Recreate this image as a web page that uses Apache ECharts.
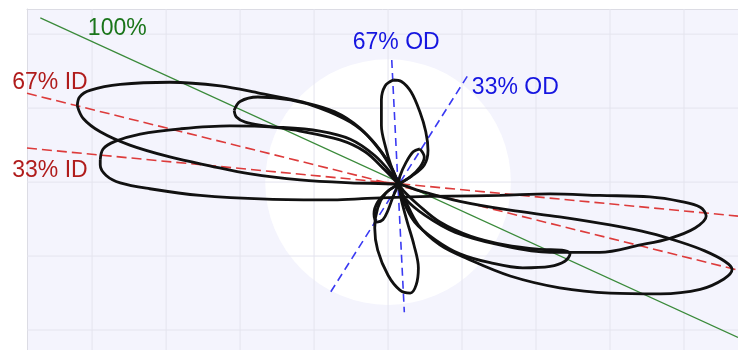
<!DOCTYPE html>
<html>
<head>
<meta charset="utf-8">
<script src="https://cdn.jsdelivr.net/npm/echarts@6/dist/echarts.min.js"></script>
<style>
  html, body { margin: 0; padding: 0; background: #ffffff; }
  #chart { width: 738px; height: 350px; }
</style>
</head>
<body>
<div id="chart"></div>
<script>
// Visible window of the plane (grid units)
const xRange = [-4.88, 4.73];
const yRange = [-2.27, 2.34];
const gridX = [-4, -3, -2, -1, 0, 1, 2, 3, 4];
const gridY = [-2, -1, 0, 1, 2];

// Clear disc behind the traces: centre and radius
const discCenter = [0, 0];
const discRadius = 1.66;

// Reference directions through the crossing point
const line100 = [[-4.70, 2.22], [4.73, -2.10]];
const line67ID = [[-4.88, 1.20], [4.73, -1.19]];
const line33ID = [[-4.88, 0.46], [4.73, -0.46]];
const line67OD = [[0.05, 1.65], [0.22, -1.76]];
const line33OD = [[1.07, 1.43], [-0.81, -1.54]];

// Direction labels
const labelText = ['100%', '67% ID', '33% ID', '67% OD', '33% OD'];
const labelX = [-3.66, -4.57, -4.57, 0.11, 1.72];
const labelY = [2.08, 1.35, 0.16, 1.88, 1.27];

// Figure-eight traces, one per direction
const loop67ID = [
  [-4.20, 1.03], [-4.17, 1.15], [-4.03, 1.24], [-3.62, 1.32], [-2.95, 1.35], [-2.27, 1.30],
  [-1.73, 1.20], [-1.19, 1.09], [-0.72, 0.95], [-0.38, 0.73], [-0.11, 0.43], [0.07, 0.14],
  [0.14, -0.03], [0.23, -0.24], [0.41, -0.58], [0.70, -0.85], [1.08, -1.04], [1.65, -1.27],
  [2.32, -1.43], [3.00, -1.50], [3.68, -1.51], [4.22, -1.45], [4.54, -1.31], [4.65, -1.18],
  [4.55, -1.07], [4.28, -0.93], [3.95, -0.81], [3.54, -0.69], [3.00, -0.58], [2.32, -0.47],
  [1.65, -0.38], [0.97, -0.26], [0.43, -0.12], [0.14, -0.03], [-0.51, -0.01], [-1.19, 0.03],
  [-1.86, 0.11], [-2.41, 0.22], [-2.95, 0.34], [-3.49, 0.50], [-3.89, 0.68], [-4.12, 0.86],
  [-4.20, 1.03]
];
const loop33ID = [
  [-3.89, 0.30], [-3.85, 0.45], [-3.69, 0.55], [-3.35, 0.65], [-2.81, 0.72], [-2.14, 0.76],
  [-1.46, 0.74], [-0.92, 0.69], [-0.51, 0.58], [-0.18, 0.36], [0.05, 0.11], [0.14, -0.03],
  [0.23, -0.22], [0.50, -0.45], [0.91, -0.68], [1.51, -0.85], [2.19, -0.95], [2.86, -0.95],
  [3.41, -0.85], [3.81, -0.76], [4.15, -0.62], [4.30, -0.46], [4.22, -0.34], [3.95, -0.26],
  [3.54, -0.20], [2.86, -0.18], [2.19, -0.16], [1.51, -0.18], [0.84, -0.19], [0.30, -0.20],
  [-0.28, -0.22], [-0.74, -0.24], [-1.64, -0.23], [-2.54, -0.18], [-3.22, -0.09], [-3.62, -0.01],
  [-3.81, 0.09], [-3.89, 0.23], [-3.89, 0.30]
];
const loop100 = [
  [-2.08, 0.97], [-2.00, 1.09], [-1.76, 1.15], [-1.32, 1.11], [-0.92, 1.00], [-0.51, 0.81],
  [-0.22, 0.57], [0.03, 0.23], [0.14, -0.03], [0.20, -0.24], [0.36, -0.54], [0.64, -0.78],
  [0.97, -0.97], [1.38, -1.09], [1.82, -1.16], [2.19, -1.14], [2.39, -1.07], [2.46, -0.97],
  [2.35, -0.92], [2.05, -0.91], [1.58, -0.85], [1.11, -0.73], [0.70, -0.54], [0.41, -0.31],
  [0.23, -0.14], [0.14, -0.03], [-0.04, 0.16], [-0.31, 0.41], [-0.65, 0.57], [-1.19, 0.69],
  [-1.66, 0.76], [-1.93, 0.81], [-2.05, 0.88], [-2.08, 0.97]
];
const loop67OD = [
  [0.07, 1.38], [-0.04, 1.30], [-0.09, 1.11], [-0.09, 0.77], [-0.03, 0.46], [0.05, 0.19],
  [0.14, -0.03], [0.18, -0.24], [0.26, -0.54], [0.35, -0.85], [0.41, -1.16], [0.38, -1.39],
  [0.30, -1.50], [0.16, -1.46], [0.00, -1.26], [-0.14, -0.92], [-0.18, -0.62], [-0.14, -0.35],
  [-0.03, -0.15], [0.14, -0.03], [0.32, 0.08], [0.49, 0.23], [0.54, 0.43], [0.51, 0.68],
  [0.43, 0.95], [0.31, 1.22], [0.18, 1.36], [0.07, 1.38]
];
const loop33OD = [
  [0.43, 0.45], [0.34, 0.41], [0.24, 0.26], [0.16, 0.08], [0.14, -0.03], [0.07, -0.19],
  [0.00, -0.38], [-0.07, -0.51], [-0.15, -0.54], [-0.19, -0.43], [-0.14, -0.27], [0.00, -0.12],
  [0.14, -0.03], [0.30, 0.07], [0.43, 0.20], [0.49, 0.34], [0.43, 0.45]
];

const refLines = [
  { name: '100%', data: line100, color: '#3a8a3a', width: 1.2, type: 'solid' },
  { name: '67% ID', data: line67ID, color: '#dd3b3b', width: 1.6, type: [10, 5] },
  { name: '33% ID', data: line33ID, color: '#dd3b3b', width: 1.6, type: [10, 5] },
  { name: '67% OD', data: line67OD, color: '#3a3af2', width: 1.6, type: [8, 5] },
  { name: '33% OD', data: line33OD, color: '#3a3af2', width: 1.6, type: [8, 5] }
];
const loops = [loop67ID, loop33ID, loop100, loop67OD, loop33OD];
const labelColors = ['#1a751a', '#b01c1c', '#b01c1c', '#1515e0', '#1515e0'];

const chart = echarts.init(document.getElementById('chart'), null, { renderer: 'canvas' });

const series = [];

// clear disc
series.push({
  type: 'custom',
  z: 1,
  silent: true,
  data: [[discCenter[0], discCenter[1], discRadius]],
  renderItem: function (params, api) {
    const c = api.coord([api.value(0), api.value(1)]);
    const s = api.size([api.value(2), api.value(2)]);
    return {
      type: 'circle',
      shape: { cx: c[0], cy: c[1], r: s[0] },
      style: { fill: '#ffffff' }
    };
  }
});

// grid lines
gridX.forEach(function (v) {
  series.push({
    type: 'line', z: 2, silent: true, symbol: 'none',
    data: [[v, yRange[0]], [v, yRange[1]]],
    lineStyle: { color: '#e4e4ee', width: 1 }
  });
});
gridY.forEach(function (v) {
  series.push({
    type: 'line', z: 2, silent: true, symbol: 'none',
    data: [[xRange[0], v], [xRange[1], v]],
    lineStyle: { color: '#e4e4ee', width: 1 }
  });
});

// reference directions
refLines.forEach(function (l) {
  series.push({
    type: 'line', z: 3, name: l.name, symbol: 'none',
    data: l.data,
    lineStyle: { color: l.color, width: l.width, type: l.type }
  });
});

// traces
loops.forEach(function (pts) {
  series.push({
    type: 'line', z: 4, symbol: 'none', smooth: 0.35,
    data: pts,
    lineStyle: { color: '#111111', width: 2.8 }
  });
});

// labels
series.push({
  type: 'scatter', z: 5, symbolSize: 0, silent: true,
  itemStyle: { opacity: 1, color: 'rgba(0,0,0,0)' },
  data: labelText.map(function (t, i) {
    return {
      value: [labelX[i], labelY[i]],
      name: t,
      label: { color: labelColors[i] }
    };
  }),
  label: {
    show: true,
    position: 'inside',
    opacity: 1,
    formatter: function (p) { return p.name; },
    fontFamily: 'Liberation Sans, Arial, sans-serif',
    fontSize: 23,
    textBorderWidth: 0,
    textBorderColor: 'transparent',
    align: 'center',
    verticalAlign: 'middle'
  }
});

chart.setOption({
  animation: false,
  backgroundColor: '#ffffff',
  grid: {
    left: 27, top: 9, right: 0, bottom: 0,
    show: true, backgroundColor: '#f4f4fd', borderWidth: 0
  },
  xAxis: {
    type: 'value', min: xRange[0], max: xRange[1], position: 'top',
    axisLine: { show: true, onZero: false, lineStyle: { color: '#dcdce4', width: 1 } },
    axisTick: { show: false }, axisLabel: { show: false }, splitLine: { show: false }
  },
  yAxis: {
    type: 'value', min: yRange[0], max: yRange[1], position: 'left',
    axisLine: { show: true, onZero: false, lineStyle: { color: '#dcdce4', width: 1 } },
    axisTick: { show: false }, axisLabel: { show: false }, splitLine: { show: false }
  },
  series: series
});
</script>
</body>
</html>
